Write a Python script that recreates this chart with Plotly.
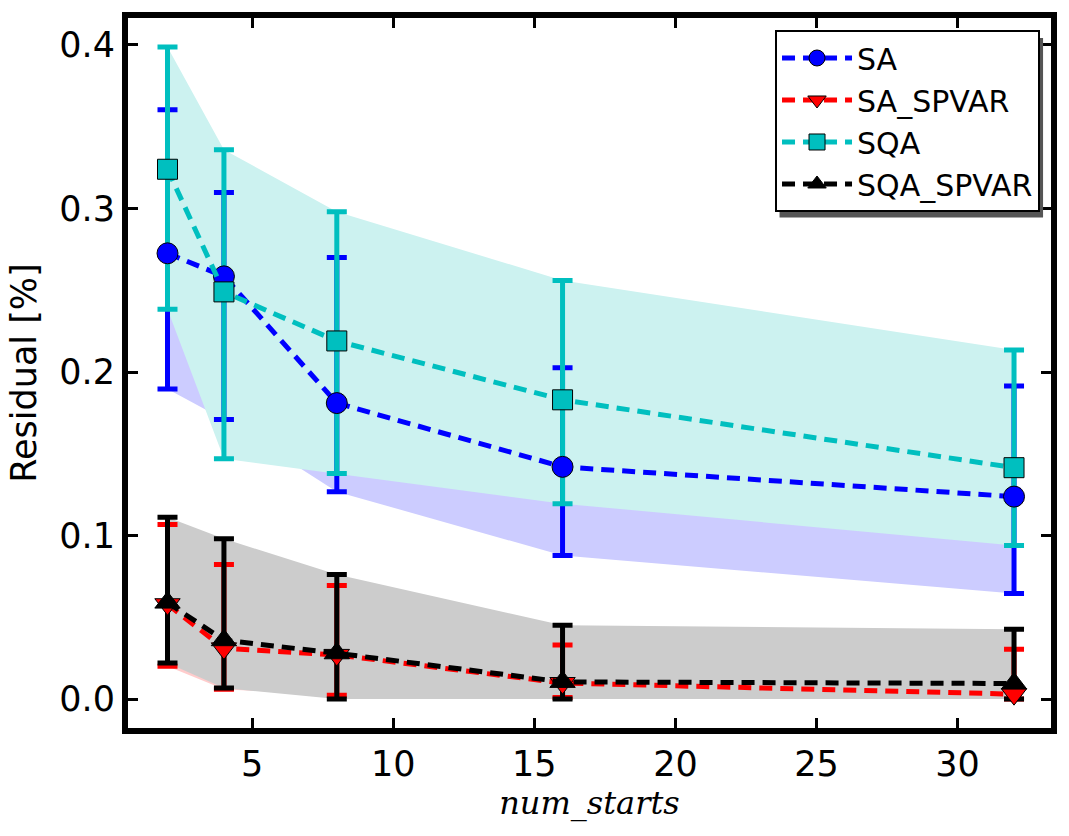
import plotly.graph_objects as go

x = [2, 4, 8, 16, 32]

sa_mean = [0.2726, 0.2585, 0.181, 0.142, 0.1238]
sa_upper = [0.3604, 0.3098, 0.270, 0.2026, 0.1915]
sa_lower = [0.1896, 0.171, 0.1268, 0.0878, 0.0646]

saspv_mean = [0.058, 0.031, 0.027, 0.0098, 0.003]
saspv_upper = [0.1067, 0.0823, 0.0695, 0.033, 0.0305]
saspv_lower = [0.020, 0.006, 0.0024, 0.001, 0.0]

sqa_mean = [0.324, 0.249, 0.219, 0.183, 0.1415]
sqa_upper = [0.3988, 0.336, 0.298, 0.256, 0.2134]
sqa_lower = [0.2384, 0.147, 0.138, 0.1195, 0.0939]

sqaspv_mean = [0.059, 0.036, 0.028, 0.0105, 0.0095]
sqaspv_upper = [0.1112, 0.098, 0.0762, 0.0451, 0.0427]
sqaspv_lower = [0.022, 0.0067, 0.0, 0.0, 0.0]

y_ticks = [0.0, 0.1, 0.2, 0.3, 0.4]
x_ticks = [5, 10, 15, 20, 25, 30]

series = [
    dict(name="SA", mean=sa_mean, up=sa_upper, lo=sa_lower, color="#0000ff",
         fill="#ccccff", symbol="circle", size=21),
    dict(name="SA_SPVAR", mean=saspv_mean, up=saspv_upper, lo=saspv_lower, color="#ff0000",
         fill="#ffcccc", symbol="triangle-down", size=22),
    dict(name="SQA", mean=sqa_mean, up=sqa_upper, lo=sqa_lower, color="#00bfbf",
         fill="#ccf2f0", symbol="square", size=20),
    dict(name="SQA_SPVAR", mean=sqaspv_mean, up=sqaspv_upper, lo=sqaspv_lower, color="#000000",
         fill="#cccccc", symbol="triangle-up", size=22),
]

fig = go.Figure()

# shaded bands
for s in series:
    fig.add_trace(go.Scatter(
        x=x + x[::-1], y=s["up"] + s["lo"][::-1], mode="lines",
        fill="toself", fillcolor=s["fill"], line=dict(width=0),
        hoverinfo="skip", showlegend=False))

# error bars
for s in series:
    fig.add_trace(go.Scatter(
        x=x, y=s["mean"], mode="markers",
        marker=dict(size=1, color="rgba(0,0,0,0)"),
        error_y=dict(type="data", symmetric=False,
                     array=[u - m for u, m in zip(s["up"], s["mean"])],
                     arrayminus=[m - l for m, l in zip(s["mean"], s["lo"])],
                     color=s["color"], thickness=5, width=10),
        hoverinfo="skip", showlegend=False))

# lines + markers
for s in series:
    fig.add_trace(go.Scatter(
        x=x, y=s["mean"], mode="lines+markers", name=s["name"],
        line=dict(color=s["color"], width=5, dash="13px,8px"),
        marker=dict(symbol=s["symbol"], size=s["size"], color=s["color"],
                    line=dict(color="black", width=1))))

axis_common = dict(
    showline=True, linewidth=6, linecolor="black", mirror="ticks",
    ticks="inside", ticklen=10, tickwidth=3, tickcolor="black",
    showgrid=False, zeroline=False,
    tickfont=dict(family="DejaVu Sans", size=35, color="black"),
)

# legend drop shadow (paper coords)
fig.add_shape(type="rect", xref="paper", yref="paper",
              x0=0.7059, x1=0.9914, y0=0.7191, y1=0.9719,
              fillcolor="#555555", line=dict(width=0), layer="above")

fig.update_layout(
    width=1069, height=836,
    margin=dict(l=128, r=16, t=16, b=108),
    paper_bgcolor="white", plot_bgcolor="white",
    xaxis=dict(range=[0.6, 33.31], tickvals=x_ticks, **axis_common,
               title=dict(text="num_starts",
                          font=dict(family="DejaVu Serif", size=32, color="black", style="italic"),
                          standoff=9)),
    yaxis=dict(range=[-0.0177, 0.4165], tickvals=y_ticks, tickformat=".1f", **axis_common,
               title=dict(text="Residual [%]",
                          font=dict(family="DejaVu Sans", size=35, color="black"),
                          standoff=14)),
    legend=dict(x=0.9881, y=0.9831, xanchor="right", yanchor="top",
                bgcolor="white", bordercolor="black", borderwidth=2,
                font=dict(family="DejaVu Sans", size=30, color="black"),
                itemsizing="trace", itemwidth=70),
    showlegend=True,
)

fig.write_html("out.html")
